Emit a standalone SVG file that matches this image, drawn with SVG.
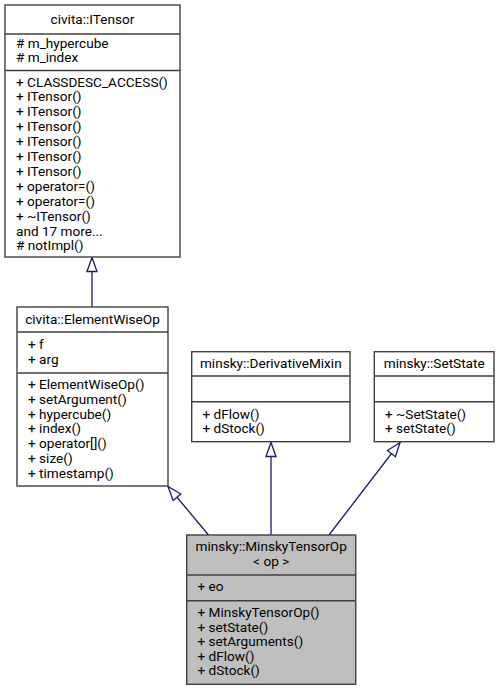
<svg xmlns="http://www.w3.org/2000/svg" width="499" height="691" viewBox="0 0 499 691">
<style>
text{font-family:Roboto,"Liberation Sans",sans-serif;font-size:13.6px;fill:#000}
.t{text-anchor:middle}
.box{fill:#fff;stroke:#404040;stroke-width:1.4}
.root{fill:#bfbfbf;stroke:#404040;stroke-width:1.4}
.sep{stroke:#404040;stroke-width:1.4}
.edge{fill:none;stroke:#191970;stroke-width:1.3;marker-end:url(#inh)}
</style>
<defs>
<marker id="inh" markerUnits="userSpaceOnUse" markerWidth="16" markerHeight="12" refX="14" refY="5" orient="auto" overflow="visible">
<path d="M0,0 L14,5 L0,10 Z" fill="#fff" stroke="#191970" stroke-width="1.3"/>
</marker>
</defs>
<rect width="499" height="691" fill="#fff"/>
<g id="connectors">
<path class="edge" d="M92,307 L92,257.5"/>
<path class="edge" d="M208.5,535 L168,486.5"/>
<path class="edge" d="M271,535 L271,442.5"/>
<path class="edge" d="M329,535 L400,442.5"/>
</g>
<g id="ITensor">
<rect class="box" x="5" y="5" width="175" height="252"/>
<line class="sep" x1="5" y1="34" x2="180" y2="34"/>
<line class="sep" x1="5" y1="70.5" x2="180" y2="70.5"/>
<text class="t" x="92.5" y="23.5">civita::ITensor</text>
<text x="16" y="47.5"># m_hypercube</text>
<text x="16" y="62.2"># m_index</text>
<text x="16" y="86.5">+ CLASSDESC_ACCESS()</text>
<text x="16" y="101.4">+ ITensor()</text>
<text x="16" y="116.3">+ ITensor()</text>
<text x="16" y="131.2">+ ITensor()</text>
<text x="16" y="146.1">+ ITensor()</text>
<text x="16" y="161">+ ITensor()</text>
<text x="16" y="175.9">+ ITensor()</text>
<text x="16" y="190.8">+ operator=()</text>
<text x="16" y="205.7">+ operator=()</text>
<text x="16" y="220.6">+ ~ITensor()</text>
<text x="16" y="235.5">and 17 more...</text>
<text x="16" y="250.4"># notImpl()</text>
</g>
<g id="ElementWiseOp">
<rect class="box" x="17" y="307" width="151" height="179"/>
<line class="sep" x1="17" y1="332" x2="168" y2="332"/>
<line class="sep" x1="17" y1="373" x2="168" y2="373"/>
<text class="t" x="92.5" y="324">civita::ElementWiseOp</text>
<text x="28" y="349">+ f</text>
<text x="28" y="363.5">+ arg</text>
<text x="28" y="389">+ ElementWiseOp()</text>
<text x="28" y="403.8">+ setArgument()</text>
<text x="28" y="418.6">+ hypercube()</text>
<text x="28" y="433.4">+ index()</text>
<text x="28" y="448.2">+ operator[]()</text>
<text x="28" y="463">+ size()</text>
<text x="28" y="477.8">+ timestamp()</text>
</g>
<g id="DerivativeMixin">
<rect class="box" x="191.7" y="351.7" width="158.3" height="90"/>
<line class="sep" x1="191.7" y1="376" x2="350" y2="376"/>
<line class="sep" x1="191.7" y1="401.7" x2="350" y2="401.7"/>
<text class="t" x="270.8" y="368">minsky::DerivativeMixin</text>
<text x="202.5" y="418.5">+ dFlow()</text>
<text x="202.5" y="433">+ dStock()</text>
</g>
<g id="SetState">
<rect class="box" x="374.3" y="351.7" width="119.7" height="90"/>
<line class="sep" x1="374.3" y1="376" x2="494" y2="376"/>
<line class="sep" x1="374.3" y1="401.7" x2="494" y2="401.7"/>
<text class="t" x="434.2" y="368">minsky::SetState</text>
<text x="385" y="418.5">+ ~SetState()</text>
<text x="385" y="433">+ setState()</text>
</g>
<g id="MinskyTensorOp">
<rect class="root" x="186.7" y="535" width="169" height="149.3"/>
<line class="sep" x1="186.7" y1="575" x2="355.7" y2="575"/>
<line class="sep" x1="186.7" y1="600.7" x2="355.7" y2="600.7"/>
<text class="t" x="271.2" y="551.2">minsky::MinskyTensorOp</text>
<text class="t" x="271.2" y="566">&lt; op &gt;</text>
<text x="197.5" y="591">+ eo</text>
<text x="197.5" y="617">+ MinskyTensorOp()</text>
<text x="197.5" y="631.6">+ setState()</text>
<text x="197.5" y="646.2">+ setArguments()</text>
<text x="197.5" y="660.8">+ dFlow()</text>
<text x="197.5" y="675.4">+ dStock()</text>
</g>
</svg>
